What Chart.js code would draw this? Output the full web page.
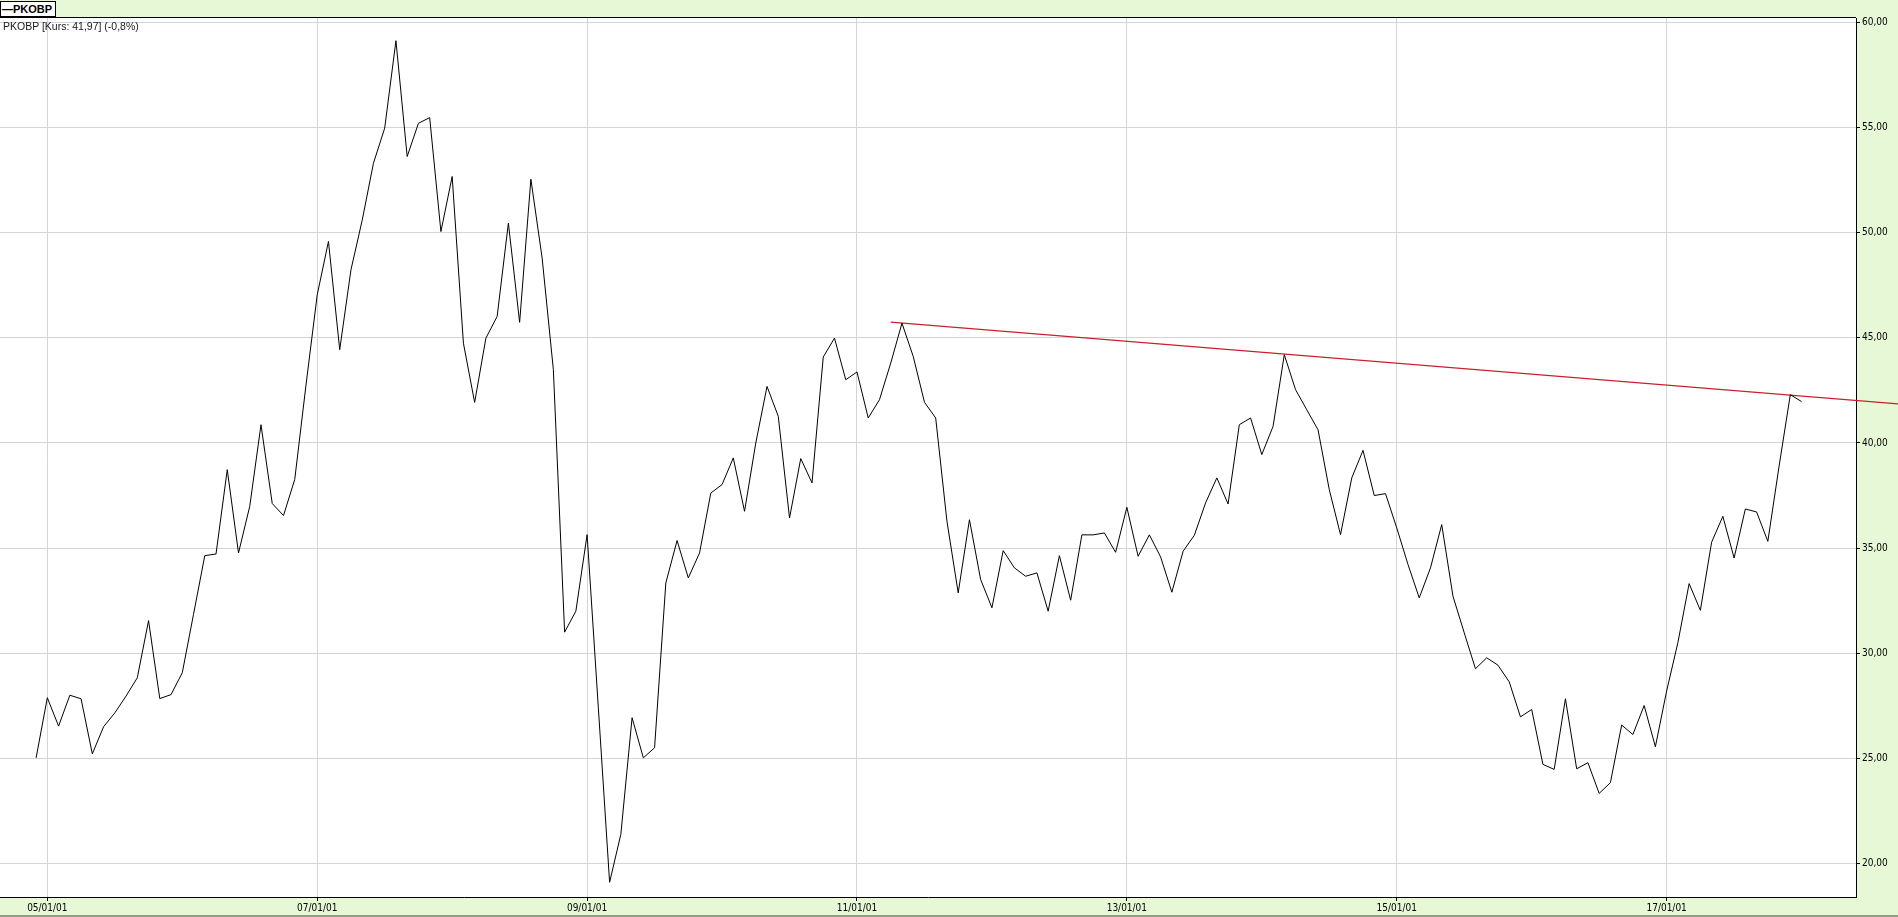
<!DOCTYPE html>
<html>
<head>
<meta charset="utf-8">
<script src="https://cdn.jsdelivr.net/npm/chart.js@4.4.1/dist/chart.umd.min.js"></script>
<style>
  html, body { margin:0; padding:0; background:#e6f8d5; overflow:hidden; }
  #wrap { position:relative; width:1898px; height:917px; }
  #legend { position:absolute; left:0; top:1px; height:16px; box-sizing:border-box; border:1px solid #000; background:#fff;
            font:bold 11px 'Liberation Sans', Arial, sans-serif; line-height:14px; padding:0 3px 0 1px; color:#000; }
  #caption { position:absolute; left:3px; top:20px; font:10.5px 'Liberation Sans', Arial, sans-serif; color:#1a1a1a; }
</style>
</head>
<body>
<div id="wrap">
  <canvas id="chart" width="1898" height="917"></canvas>
  <div id="legend">—PKOBP</div>
  <div id="caption">PKOBP [Kurs: 41,97] (-0,8%)</div>
</div>
<script>
/* PKOBP monthly closes, Dec 2004 .. Jan 2018 */
const FIRST_MONTH = -1;   // months after Jan 2005 of the first close
const closes = [
  25.02, 27.88, 26.53, 28.00, 27.83, 25.21, 26.50, 27.16, 27.96, 28.83, 31.55, 27.84, 28.03,
  29.07, 31.85, 34.64, 34.72, 38.73, 34.77, 36.99, 40.87, 37.12, 36.55, 38.26, 42.75,
  47.05, 49.59, 44.44, 48.24, 50.60, 53.31, 54.98, 59.14, 53.63, 55.21, 55.48, 50.06,
  52.68, 44.75, 41.93, 44.99, 46.02, 50.46, 45.74, 52.55, 48.80, 43.49, 31.00, 32.00,
  35.64, 27.40, 19.10, 21.38, 26.93, 25.02, 25.50, 33.34, 35.36, 33.58, 34.77, 37.62,
  38.02, 39.29, 36.75, 40.00, 42.69, 41.27, 36.43, 39.26, 38.10, 44.09, 44.99, 43.01,
  43.38, 41.19, 42.06, 43.80, 45.70, 44.12, 41.94, 41.19, 36.28, 32.87, 36.35, 33.50,
  32.16, 34.88, 34.06, 33.66, 33.82, 32.00, 34.64, 32.52, 35.63, 35.63, 35.72, 34.80,
  36.94, 34.61, 35.63, 34.58, 32.90, 34.85, 35.61, 37.15, 38.34, 37.10, 40.87, 41.19,
  39.45, 40.79, 44.20, 42.54, 41.58, 40.63, 37.78, 35.64, 38.34, 39.65, 37.50, 37.59,
  35.96, 34.22, 32.63, 34.06, 36.12, 32.71, 30.97, 29.26, 29.78, 29.43, 28.64, 26.97,
  27.32, 24.71, 24.47, 27.83, 24.50, 24.79, 23.33, 23.84, 26.58, 26.13, 27.51, 25.55,
  28.20, 30.50, 33.31, 32.04, 35.28, 36.51, 34.53, 36.86, 36.72, 35.32, 38.90, 42.30,
  41.97
];

const tickMonths = [0, 24, 48, 72, 96, 120, 144];
const tickLabels = ['05/01/01', '07/01/01', '09/01/01', '11/01/01', '13/01/01', '15/01/01', '17/01/01'];
const yTicks = [20, 25, 30, 35, 40, 45, 50, 55, 60];

/* resistance line drawn over the peaks */
const trendMonths = [75, 165];
const trendValues = [45.75, 41.84];

const GRID = '#d3d3db';
const AXIS_FONT = { family: "'Liberation Sans Narrow', 'DejaVu Sans Condensed', Arial, sans-serif", size: 10 };

const frame = {
  id: 'frame',
  beforeDraw(chart) {
    const { ctx, chartArea: a } = chart;
    ctx.save();
    ctx.fillStyle = '#fff';
    ctx.fillRect(a.left, a.top, a.right - a.left, a.bottom - a.top);
    ctx.restore();
  },
  afterDraw(chart) {
    const { ctx, chartArea: a, width, height } = chart;
    ctx.save();
    ctx.strokeStyle = '#000';
    ctx.lineWidth = 1;
    ctx.beginPath();
    ctx.moveTo(0, a.top - 0.5);
    ctx.lineTo(a.right, a.top - 0.5);
    ctx.stroke();
    ctx.fillStyle = '#8e9c88';
    ctx.fillRect(0, height - 2, width, 2);
    ctx.restore();
  }
};

new Chart(document.getElementById('chart'), {
  type: 'line',
  data: {
    datasets: [
      { label: 'PKOBP', data: closes.map((v, i) => ({ x: FIRST_MONTH + i, y: v })),
        borderColor: '#000', borderWidth: 1, pointRadius: 0, tension: 0 },
      { label: 'trend', data: trendMonths.map((m, i) => ({ x: m, y: trendValues[i] })),
        borderColor: '#c8202c', borderWidth: 1.2, pointRadius: 0, tension: 0, clip: false }
    ]
  },
  options: {
    responsive: false, animation: false, devicePixelRatio: 1,
    layout: { padding: { top: 18, left: 0, right: 0, bottom: 0 } },
    plugins: { legend: { display: false }, tooltip: { enabled: false } },
    scales: {
      x: {
        type: 'linear', min: -4.21, max: 160.84,
        afterBuildTicks: s => { s.ticks = tickMonths.map(v => ({ value: v })); },
        afterFit: s => { s.height = 20; },
        grid: { color: GRID, tickColor: '#000', tickLength: 4 },
        border: { display: true, color: '#000', width: 1 },
        ticks: { callback: (v, i) => tickLabels[i], font: AXIS_FONT, color: '#000', padding: 1, maxRotation: 0, autoSkip: false }
      },
      y: {
        position: 'right', min: 18.4, max: 60.22,
        afterBuildTicks: s => { s.ticks = yTicks.map(v => ({ value: v })); },
        afterFit: s => { s.width = 42; },
        grid: { color: GRID, tickColor: '#000', tickLength: 4 },
        border: { display: true, color: '#000', width: 1 },
        ticks: { callback: v => v.toFixed(2).replace('.', ','), font: AXIS_FONT, color: '#000', padding: 2, crossAlign: 'near' }
      }
    }
  },
  plugins: [frame]
});
</script>
</body>
</html>
